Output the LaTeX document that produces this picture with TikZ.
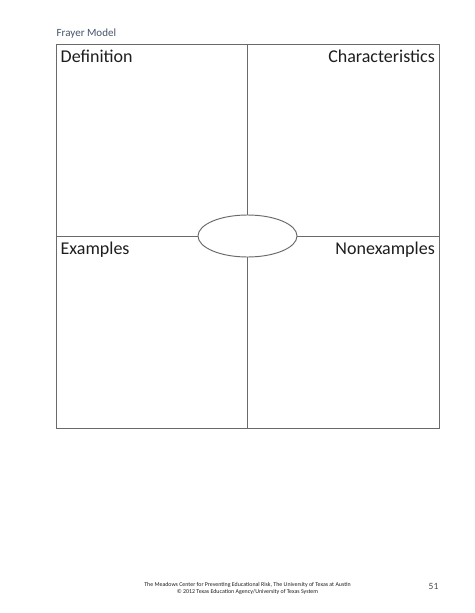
\documentclass[tikz,border=0pt]{standalone}
\usepackage{fontspec}
\setmainfont{Carlito}
\usetikzlibrary{shapes.geometric}
\definecolor{framegray}{HTML}{6A6A6A}
\definecolor{titleblue}{HTML}{44546A}
\definecolor{ink}{HTML}{1E1E1E}
\begin{document}
\begin{tikzpicture}[x=1pt,y=-1pt,
  frame/.style={draw=framegray,line width=0.95pt},
  label/.style={inner sep=0pt,font=\fontsize{18}{20}\selectfont,text=ink},
  foot/.style={inner sep=0pt,font=\fontsize{5.9}{6.6}\selectfont,text=ink,align=center}]
\useasboundingbox (0,0) rectangle (474,613);
\fill[white] (0,0) rectangle (474,613);
% frame and quadrants
\coordinate (tl) at (56,44);
\coordinate (br) at (439,428);
\coordinate (tm) at (247.5,44);
\coordinate (bm) at (247.5,428);
\coordinate (ml) at (56,236);
\coordinate (mr) at (439,236);
\node[ellipse,frame,fill=white,minimum width=99pt,minimum height=42pt,inner sep=0pt] (center) at (247.5,236) {};
\draw[frame] (tl) rectangle (br);
\draw[frame] (tm) -- (center.north);
\draw[frame] (center.south) -- (bm);
\draw[frame] (ml) -- (center.west);
\draw[frame] (center.east) -- (mr);
% labels
\node[inner sep=0pt,anchor=base west,font=\fontsize{11}{13}\selectfont,text=titleblue] (title) at (56.5,36.5) {Frayer Model};
\node[label,anchor=base west] (def) at (60.5,62) {Definition};
\node[label,anchor=base east] (char) at (435,62) {Characteristics};
\node[label,anchor=base west] (ex) at (60.5,254.5) {Examples};
\node[label,anchor=base east] (nonex) at (435,254.5) {Nonexamples};
% footer
\node[foot] (footer) at (247.5,588.5) {The Meadows Center for Preventing Educational Risk, The University of Texas at Austin\\ \textcopyright{} 2012 Texas Education Agency/University of Texas System};
\node[inner sep=0pt,font=\fontsize{9.5}{11}\selectfont,text=ink!80] (page) at (433.5,586) {51};
\end{tikzpicture}
\end{document}
